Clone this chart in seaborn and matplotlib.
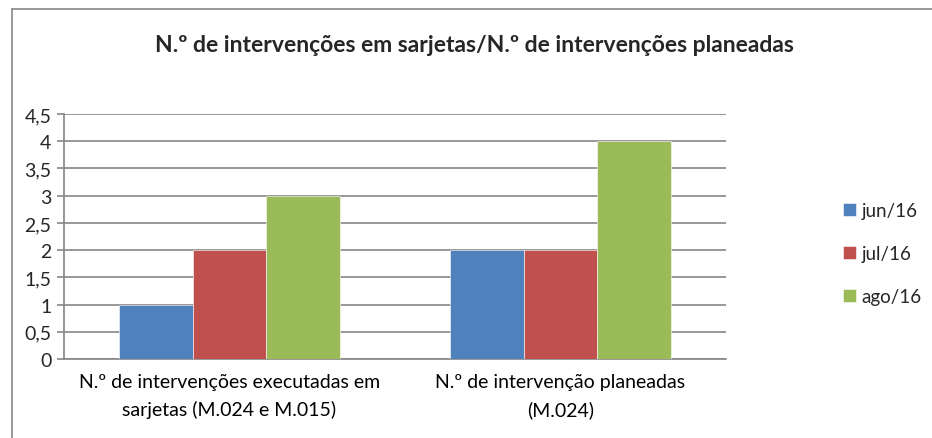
import numpy as np
import pandas as pd
import seaborn as sns
import matplotlib.pyplot as plt
from matplotlib.lines import Line2D

categories = ['N.º de intervenções executadas em\nsarjetas (M.024 e M.015)',
              'N.º de intervenção planeadas\n(M.024)']
months = ['jun/16', 'jul/16', 'ago/16']
jun16 = [1, 2]
jul16 = [2, 2]
ago16 = [3, 4]
colors = ['#4F81BD', '#C0504D', '#9BBB59']
title = 'N.º de intervenções em sarjetas/N.º de intervenções planeadas'

df = pd.DataFrame({
    'categoria': categories * 3,
    'mes': [m for m in months for _ in categories],
    'valor': jun16 + jul16 + ago16,
})

sns.set_style('white')
plt.rcParams['font.family'] = ['Lato', 'DejaVu Sans']

fig = plt.figure(figsize=(9.32, 4.39), dpi=100)
ax = fig.add_axes([64 / 932, 1 - 360 / 439, (726 - 64) / 932, (360 - 115) / 439])

sns.barplot(data=df, x='categoria', y='valor', hue='mes', palette=colors,
            width=0.665, gap=0, ax=ax, zorder=3, saturation=1,
            edgecolor='white', linewidth=0.4)

ax.set_xlim(-0.5, 1.5)
ax.set_ylim(0, 4.5)
yt = np.arange(0, 4.51, 0.5)
ax.set_yticks(yt)
ax.set_yticklabels([f'{v:g}'.replace('.', ',') for v in yt], fontsize=14)
ax.yaxis.grid(True, color='#868686', linewidth=1.2, zorder=0)
ax.set_axisbelow(True)
ax.set_xlabel('')
ax.set_ylabel('')
ax.tick_params(axis='x', length=0, labelsize=14, pad=10, colors='#000000')
for lbl in ax.get_xticklabels():
    lbl.set_multialignment('center')
    lbl.set_linespacing(1.7)
ax.set_xticks([-0.5, 0.5, 1.5], minor=True)
ax.tick_params(axis='x', which='minor', length=5, color='#868686', width=1.2)
ax.tick_params(axis='y', length=5, color='#868686', width=1.2, left=True, pad=4)

for side in ['top', 'right']:
    ax.spines[side].set_visible(False)
for side in ['left', 'bottom']:
    ax.spines[side].set_color('#868686')
    ax.spines[side].set_linewidth(1.2)

ax.legend(loc='center left', bbox_to_anchor=(1.152, 0.43), frameon=False,
          fontsize=13.5, handlelength=0.65, handleheight=0.7, handletextpad=0.3,
          labelspacing=1.4)

fig.text(0.509, 1 - 46 / 439, title, ha='center', va='center',
         fontsize=16.5, fontweight='bold')

fig.add_artist(Line2D([12 / 932, 1], [1 - 10 / 439, 1 - 10 / 439],
                      color='#868686', linewidth=1.2))
fig.add_artist(Line2D([12 / 932, 12 / 932], [0, 1 - 10 / 439],
                      color='#868686', linewidth=1.2))

fig.savefig('out.png', dpi=100, facecolor='white')
